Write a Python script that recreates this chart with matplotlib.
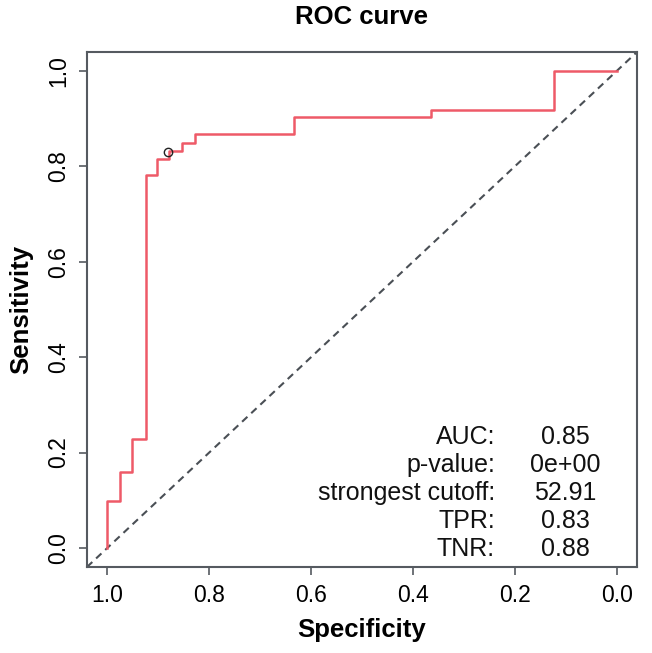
import numpy as np
import matplotlib
matplotlib.use("Agg")
import matplotlib.pyplot as plt

plt.rcParams['font.family'] = ['Liberation Sans', 'DejaVu Sans']

# -------------------------
# Data
# -------------------------

specificity = [1.0, 1.0, 0.976, 0.976, 0.951, 0.951, 0.925, 0.925, 0.902, 0.902,
               0.878, 0.878, 0.853, 0.853, 0.828, 0.828, 0.634, 0.634, 0.365, 0.365,
               0.122, 0.122, 0.0]
sensitivity = [0.0, 0.098, 0.098, 0.16, 0.16, 0.229, 0.229, 0.781, 0.781, 0.815,
               0.815, 0.832, 0.832, 0.849, 0.849, 0.867, 0.867, 0.903, 0.903, 0.919,
               0.919, 1.0, 1.0]

best_spec = 0.88
best_sens = 0.83

stat_names = ["AUC:", "p-value:", "strongest cutoff:", "TPR:", "TNR:"]
stat_values = ["0.85", "0e+00", "52.91", "0.83", "0.88"]

ticks = [0.0, 0.2, 0.4, 0.6, 0.8, 1.0]
tick_labels = ["0.0", "0.2", "0.4", "0.6", "0.8", "1.0"]

# -------------------------
# Plot
# -------------------------

fig = plt.figure(figsize=(6.52, 6.53), dpi=100)
ax = fig.add_axes([0.1334, 0.1317, 0.977 - 0.1334, 0.9204 - 0.1317])

frame_col = "#555a60"

# diagonal reference line
ax.plot([1.04, -0.04], [-0.04, 1.04], linestyle=(0, (3.5, 2.5)),
        color="#4a4f55", lw=1.5)

ax.plot(specificity, sensitivity, color="#ee5a68", lw=1.8)

ax.plot([best_spec], [best_sens], marker="o", markersize=6,
        markerfacecolor="none", markeredgecolor="#222222", markeredgewidth=1.0)

ax.set_xlim(1.04, -0.04)
ax.set_ylim(-0.04, 1.04)

ax.set_xticks(ticks)
ax.set_xticklabels(tick_labels)
ax.set_yticks(ticks)
ax.set_yticklabels(tick_labels, rotation=90, va="center")

ax.tick_params(direction="out", length=6, width=1.2, color=frame_col,
               labelsize=16.5, pad=6)

for s in ax.spines.values():
    s.set_color(frame_col)
    s.set_linewidth(1.5)

ax.set_title("ROC curve", fontsize=18.5, fontweight="bold", pad=20)
ax.set_xlabel("Specificity", fontsize=18.5, fontweight="bold", labelpad=8)
ax.set_ylabel("Sensitivity", fontsize=18.5, fontweight="bold", labelpad=10)

for i in range(len(stat_names)):
    y = 0.252 - i * 0.0544
    ax.text(0.742, y, stat_names[i], transform=ax.transAxes, fontsize=18,
            ha="right", va="center", color="#111111")
    ax.text(0.869, y, stat_values[i], transform=ax.transAxes, fontsize=18,
            ha="center", va="center", color="#111111")

plt.savefig("out.png", dpi=100)
